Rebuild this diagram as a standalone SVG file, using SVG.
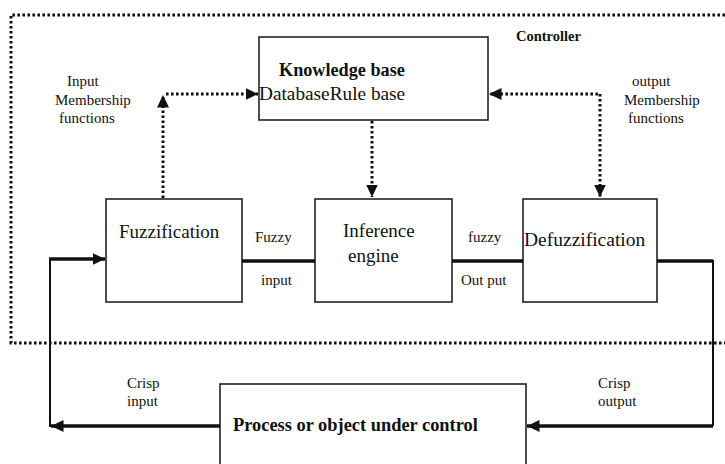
<svg xmlns="http://www.w3.org/2000/svg" width="725" height="464" viewBox="0 0 725 464">
<style>
  .box { fill: #fff; stroke: #222; stroke-width: 1.6; }
  .t { font-family: "Liberation Serif", "Times New Roman", serif; fill: #111; }
  .big { font-size: 19px; }
  .sm { font-size: 15px; }
  .b { font-weight: bold; }
  .dot { fill: none; stroke: #111; stroke-width: 3; stroke-dasharray: 2.6 2.4; }
  .thick { fill: none; stroke: #111; stroke-width: 3.5; }
  .thin { fill: none; stroke: #111; stroke-width: 2; }
</style>
<defs>
  <marker id="ah" markerUnits="userSpaceOnUse" markerWidth="14" markerHeight="13" refX="12.5" refY="6" orient="auto">
    <path d="M0,0 L12.5,6 L0,12 z" fill="#111"/>
  </marker>
</defs>
<rect width="725" height="464" fill="#fff"/>

<g id="controller">
  <path class="dot" d="M725,15 H11 V343 H725"/>
  <text class="t b" x="516" y="40.5" font-size="14.5">Controller</text>
</g>

<g id="knowledge-base">
  <rect class="box" x="259" y="37" width="229" height="83"/>
  <text class="t b" x="279" y="76" font-size="18.2">Knowledge base</text>
  <text class="t" x="259" y="100" font-size="19.3">DatabaseRule base</text>
</g>

<g id="fuzzification">
  <rect class="box" x="106" y="199" width="136" height="103"/>
  <text class="t big" x="119" y="238">Fuzzification</text>
</g>

<g id="inference">
  <rect class="box" x="315" y="199" width="137" height="103"/>
  <text class="t big" x="343" y="237">Inference</text>
  <text class="t big" x="348" y="262">engine</text>
</g>

<g id="defuzzification">
  <rect class="box" x="523" y="199" width="134" height="103"/>
  <text class="t" x="524" y="245.5" font-size="19.5">Defuzzification</text>
</g>

<g id="process">
  <rect class="box" x="220" y="384" width="306" height="95"/>
  <text class="t b" x="233" y="431" font-size="18.4">Process or object under control</text>
</g>

<g id="connectors">
  <path class="dot" d="M163,198 V97"/>
  <path d="M163,95 L169,107.5 L157,107.5 z" fill="#111"/>
  <path class="dot" d="M166,94 H258" marker-end="url(#ah)"/>
  <path class="dot" d="M372,121 V197" marker-end="url(#ah)"/>
  <path class="dot" d="M600,94 V197" marker-end="url(#ah)"/>
  <path class="dot" d="M598,94 H489" marker-end="url(#ah)"/>
  <path class="thick" d="M242,261 H315"/>
  <path class="thick" d="M452,261 H523"/>
  <path class="thick" d="M657,261 H713"/>
  <path class="thin" d="M713,260 V426"/>
  <path class="thick" d="M713,426 H527" marker-end="url(#ah)"/>
  <path class="thick" d="M220,426 H51" marker-end="url(#ah)"/>
  <path class="thin" d="M50,427 V258"/>
  <path class="thick" d="M49,259 H105" marker-end="url(#ah)"/>
</g>

<g id="labels">
  <text class="t sm" x="67" y="86">Input</text>
  <text class="t sm" x="55" y="105">Membership</text>
  <text class="t sm" x="59" y="123">functions</text>
  <text class="t sm" x="632" y="86">output</text>
  <text class="t sm" x="624" y="105">Membership</text>
  <text class="t sm" x="628" y="123">functions</text>
  <text class="t sm" x="255" y="242">Fuzzy</text>
  <text class="t sm" x="261" y="285">input</text>
  <text class="t sm" x="468" y="242">fuzzy</text>
  <text class="t sm" x="461" y="285">Out put</text>
  <text class="t sm" x="127" y="388">Crisp</text>
  <text class="t sm" x="127" y="406">input</text>
  <text class="t sm" x="598" y="388">Crisp</text>
  <text class="t sm" x="598" y="406">output</text>
</g>
</svg>
